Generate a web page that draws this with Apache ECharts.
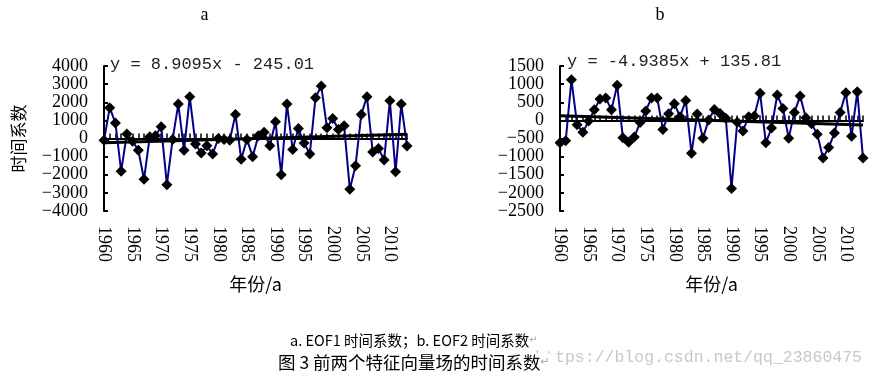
<!DOCTYPE html>
<html><head><meta charset="utf-8">
<script src="https://cdn.jsdelivr.net/npm/echarts@6/dist/echarts.min.js"></script>
<style>html,body{margin:0;padding:0;background:#fff}#c{width:875px;height:379px}</style>
</head><body><div id="c"></div>
<script>
const years = ['1960','1961','1962','1963','1964','1965','1966','1967','1968','1969',
  '1970','1971','1972','1973','1974','1975','1976','1977','1978','1979',
  '1980','1981','1982','1983','1984','1985','1986','1987','1988','1989',
  '1990','1991','1992','1993','1994','1995','1996','1997','1998','1999',
  '2000','2001','2002','2003','2004','2005','2006','2007','2008','2009',
  '2010','2011','2012','2013'];
// EOF1 time coefficients (panel a)
const eof1 = [-100,1700,850,-1800,250,-150,-650,-2250,100,150,
  650,-2550,-50,1900,-650,2300,-300,-800,-400,-850,
  0,-50,-100,1330,-1150,-50,-1000,150,350,-400,
  920,-2000,1900,-600,550,-250,-850,2250,2900,600,
  1100,500,700,-2800,-1500,1330,2300,-750,-550,-1180,
  2080,-1840,1900,-420];
// EOF2 time coefficients (panel b)
const eof2 = [-620,-560,1120,-120,-330,-20,290,590,620,290,
  970,-480,-600,-460,-60,260,620,620,-250,180,
  460,100,550,-910,175,-490,10,300,190,60,
  -1880,-50,-290,100,120,750,-620,-210,700,330,
  -490,220,670,70,-90,-380,-1040,-750,-350,220,
  760,-440,790,-1040];
// linear trend equations shown on the chart
const trendA = {slope: 8.9095, intercept: -245.01, text: 'y = 8.9095x - 245.01'};
const trendB = {slope: -4.9385, intercept: 135.81, text: 'y = -4.9385x + 135.81'};
const yRangeA = {min: -4000, max: 4000, interval: 1000};
const yRangeB = {min: -2500, max: 1500, interval: 500};
const panelTitles = ['a', 'b'];
const xName = '年份/a';
const yName = '时间系数';
const caption1 = 'a. EOF1 时间系数；b. EOF2 时间系数';
const caption2 = '图 3 前两个特征向量场的时间系数';
const watermark = 'https://blog.csdn.net/qq_23860475';

function trendData(t) {
  const n = years.length;
  return [[years[0], t.slope * 1 + t.intercept], [years[n - 1], t.slope * n + t.intercept]];
}

const serif = 'Liberation Serif';
const cjk = 'Noto Sans CJK SC';

function xAxes(g) {
  return [{
    type: 'category', gridIndex: g, data: years, boundaryGap: false, position: 'bottom',
    axisLine: {show: false, onZero: false}, axisTick: {show: false},
    axisLabel: {interval: 4, rotate: -90, margin: 15, fontFamily: serif, fontSize: 18, color: '#000'},
    name: xName, nameLocation: 'middle', nameGap: 64,
    nameTextStyle: {fontFamily: cjk, fontSize: 18, color: '#000'}
  }, {
    type: 'category', gridIndex: g, data: years, boundaryGap: false, position: 'top',
    axisLine: {show: true, onZero: true, lineStyle: {color: '#000', width: 2}},
    axisTick: {show: true, interval: 0, length: 5, lineStyle: {color: '#000', width: 1.5}},
    axisLabel: {show: false}
  }];
}
function yAxis(g, r, withName) {
  const a = {
    type: 'value', gridIndex: g, min: r.min, max: r.max, interval: r.interval,
    axisLine: {show: true, lineStyle: {color: '#000', width: 2}},
    axisTick: {show: true, inside: true, length: 4, lineStyle: {color: '#000', width: 2}},
    splitLine: {show: false},
    axisLabel: {margin: 16, fontFamily: serif, fontSize: 18, color: '#000',
      formatter: v => String(v).replace('-', '\u2212')}
  };
  if (withName) {
    a.name = yName; a.nameLocation = 'middle'; a.nameGap = 77;
    a.nameTextStyle = {fontFamily: cjk, fontSize: 17, color: '#000'};
  }
  return a;
}
function dataSeries(xi, yi, d) {
  return {type: 'line', xAxisIndex: xi, yAxisIndex: yi, data: d,
    symbol: 'diamond', symbolSize: 11, showAllSymbol: true, itemStyle: {color: '#000'},
    lineStyle: {color: '#00008B', width: 2}, z: 3};
}
function trendSeries(xi, yi, t) {
  return {type: 'line', xAxisIndex: xi, yAxisIndex: yi, data: trendData(t),
    symbol: 'none', lineStyle: {color: '#000', width: 3}, z: 4, silent: true};
}

const chart = echarts.init(document.getElementById('c'), null, {renderer: 'canvas'});
chart.setOption({
  animation: false,
  backgroundColor: '#fff',
  grid: [
    {left: 104, top: 66, width: 303, height: 145},
    {left: 560, top: 66, width: 303, height: 145}
  ],
  xAxis: [...xAxes(0), ...xAxes(1)],
  yAxis: [yAxis(0, yRangeA, true), yAxis(1, yRangeB, false)],
  series: [
    dataSeries(0, 0, eof1), trendSeries(0, 0, trendA),
    dataSeries(2, 1, eof2), trendSeries(2, 1, trendB)
  ],
  graphic: [
    {type: 'text', z: 10, style: {x: 204.5, y: 15.5, text: panelTitles[0], align: 'center', verticalAlign: 'middle', font: '18px "Liberation Serif"', fill: '#000'}},
    {type: 'text', z: 10, style: {x: 660, y: 15.5, text: panelTitles[1], align: 'center', verticalAlign: 'middle', font: '18px "Liberation Serif"', fill: '#000'}},
    {type: 'text', z: 10, style: {x: 110, y: 64.5, text: trendA.text, verticalAlign: 'middle', font: '17px "Liberation Mono"', fill: '#222'}},
    {type: 'text', z: 10, style: {x: 567, y: 61.5, text: trendB.text, verticalAlign: 'middle', font: '17px "Liberation Mono"', fill: '#222'}},
    {type: 'text', z: 10, style: {x: 862, y: 358, text: watermark, align: 'right', verticalAlign: 'middle', font: '16.5px "Liberation Mono"', fill: '#c8c8c8'}},
    {type: 'text', z: 11, style: {x: 290, y: 340, verticalAlign: 'middle',
      text: '{m|' + caption1 + '}{r|↵}',
      rich: {m: {fontFamily: cjk, fontSize: 14.5, fill: '#000', color: '#000'}, r: {fontFamily: 'DejaVu Sans', fontSize: 10, color: '#aaa', fill: '#aaa'}}}},
    {type: 'text', z: 11, style: {x: 278, y: 362, verticalAlign: 'middle', backgroundColor: '#fff', padding: [0, 4, 0, 0],
      text: '{m|' + caption2 + '}{r|↵}',
      rich: {m: {fontFamily: cjk, fontSize: 17.5, fill: '#000', color: '#000'}, r: {fontFamily: 'DejaVu Sans', fontSize: 11, color: '#aaa', fill: '#aaa'}}}}
  ]
});
</script></body></html>
